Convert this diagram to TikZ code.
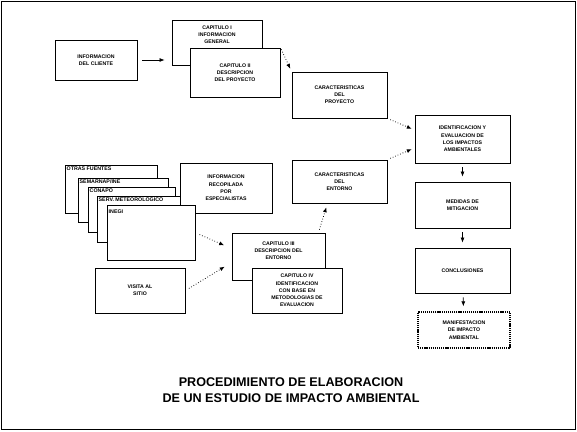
\documentclass[tikz,border=0pt]{standalone}
\usepackage{fontspec}
\setmainfont{Liberation Sans}
\usepackage{tikz}
\usetikzlibrary{arrows.meta}

\tikzset{
	caja/.style={shape=rectangle,draw=black,line width=0.9pt,fill=white,inner sep=1pt,
		align=center,font=\bfseries\fontsize{5.2}{7.2}\selectfont},
	hoja/.style={caja,anchor=north west},
	etiqueta/.style={anchor=north west,inner sep=1.5pt,font=\bfseries\fontsize{5.3}{6}\selectfont},
	flecha/.style={-{Latex[length=5pt,width=4pt]},line width=0.7pt},
	punteada/.style={flecha,dotted,line width=0.8pt},
	titulo/.style={align=center,font=\bfseries\fontsize{12.6}{15.5}\selectfont}
}

\begin{document}
\begin{tikzpicture}[x=1pt,y=-1pt]
	
	\useasboundingbox (0,0) rectangle (577,431);
	\draw[line width=1pt] (1.5,1.5) rectangle (575.5,429.5);
	
	% columna superior
	\node[caja,minimum width=82pt,minimum height=40pt] (cliente) at (96,60) {INFORMACION\\DEL CLIENTE};
	\node[caja,minimum width=90pt,minimum height=45pt] (cap1) at (217,42.5) {CAPITULO I\\INFORMACION\\GENERAL\\[9pt]};
	\node[caja,minimum width=90pt,minimum height=49pt] (cap2) at (235,72.5) {CAPITULO II\\DESCRIPCION\\DEL PROYECTO};
	\node[caja,minimum width=95pt,minimum height=46pt] (proyecto) at (339.5,95) {CARACTERISTICAS\\DEL\\PROYECTO};
	
	% columna derecha
	\node[caja,minimum width=95pt,minimum height=48pt] (ident) at (462.5,139) {IDENTIFICACION Y\\EVALUACION DE\\LOS IMPACTOS\\AMBIENTALES};
	\node[caja,minimum width=95pt,minimum height=46pt] (medidas) at (462.5,205) {MEDIDAS DE\\MITIGACION};
	\node[caja,minimum width=95pt,minimum height=45pt] (conclusiones) at (462.5,270.5) {CONCLUSIONES};
	\node[caja,minimum width=92pt,minimum height=36pt,line width=1.3pt,dash pattern=on 1.2pt off 0.9pt] (manifestacion) at (464,330) {MANIFESTACION\\DE IMPACTO\\AMBIENTAL};
	
	% fuentes de informacion
	\node[caja,minimum width=92pt,minimum height=50pt] (recopilada) at (226,188) {INFORMACION\\RECOPILADA\\POR\\ESPECIALISTAS};
	\node[hoja,minimum width=92pt,minimum height=48pt,label={[etiqueta]north west:OTRAS FUENTES}] (otras) at (65,165) {};
	\node[hoja,minimum width=90pt,minimum height=44pt,label={[etiqueta]north west:SEMARNAP/INE}] (semarnap) at (78,178) {};
	\node[hoja,minimum width=87pt,minimum height=45pt,label={[etiqueta]north west:CONAPO}] (conapo) at (88,187) {};
	\node[hoja,minimum width=83pt,minimum height=46pt,label={[etiqueta]north west:SERV. METEOROLOGICO}] (meteoro) at (97,196) {};
	\node[hoja,minimum width=88pt,minimum height=55pt,label={[etiqueta,yshift=-3pt]north west:INEGI}] (inegi) at (107,205) {};
	
	\node[caja,minimum width=95pt,minimum height=43pt] (entorno) at (339.5,181.5) {CARACTERISTICAS\\DEL\\ENTORNO};
	\node[caja,minimum width=90pt,minimum height=45pt] (visita) at (140,290.5) {VISITA AL\\SITIO};
	\node[caja,minimum width=93pt,minimum height=47pt] (cap3) at (278.5,256.5) {CAPITULO III\\DESCRIPCION DEL\\ENTORNO\\[5pt]};
	\node[caja,minimum width=90pt,minimum height=45pt] (cap4) at (297,290.5) {CAPITULO IV\\IDENTIFICACION\\CON BASE EN\\METODOLOGIAS DE\\EVALUACION};
	
	\node[titulo] (titulo) at (291,390) {PROCEDIMIENTO DE ELABORACION\\DE UN ESTUDIO DE IMPACTO AMBIENTAL};
	
	\draw[flecha,shorten <=5pt,shorten >=7pt] (cliente) -- (cliente -| cap1.west);
	\draw[punteada,shorten <=2pt,shorten >=3pt] (cap2.north east) -- (proyecto.north west);
	\draw[punteada,shorten <=3pt,shorten >=3pt] (proyecto.south east) -- ([yshift=9pt]ident.west);
	\draw[punteada,shorten <=3pt,shorten >=3pt] (entorno.north east) -- ([yshift=-9pt]ident.west);
	\draw[flecha,shorten <=4pt,shorten >=5pt] (ident) -- (medidas);
	\draw[flecha,shorten <=4pt,shorten >=5pt] (medidas) -- (conclusiones);
	\draw[flecha,shorten <=4pt,shorten >=5pt] (conclusiones) -- (manifestacion);
	\draw[punteada,shorten <=3pt,shorten >=4pt] ([xshift=40pt]cap3.north) -- ([xshift=-12pt]entorno.south);
	\draw[punteada,shorten <=4pt,shorten >=8pt] (inegi.east) -- ([yshift=8pt]cap3.west);
	\draw[punteada,shorten <=4pt,shorten >=8pt] (visita.east) -- ([yshift=-6pt]cap3.west);
	
\end{tikzpicture}
\end{document}
